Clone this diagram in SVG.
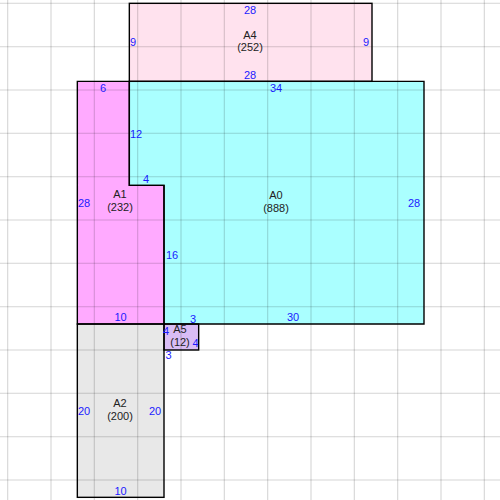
<svg xmlns="http://www.w3.org/2000/svg" width="500" height="500" viewBox="0 0 500 500">
<style>
.grid line{stroke:#000;stroke-opacity:0.17;stroke-width:1.1}
.shape{stroke:#000;stroke-width:1.4}
.dim{font-family:"Liberation Sans",Arial,sans-serif;font-size:11px;fill:#1a1aff;text-anchor:middle}
.name{font-family:"Liberation Sans",Arial,sans-serif;font-size:11px;fill:#222;text-anchor:middle}
</style>
<rect x="0" y="0" width="500" height="500" fill="#fff"/>
<g id="fills">
<rect x="129.33" y="3.33" width="242.67" height="78" fill="#ffe2ee"/>
<polygon points="129.33,81.33 424,81.33 424,324 164,324 164,185.33 129.33,185.33" fill="#aaffff"/>
<polygon points="77.33,81.33 129.33,81.33 129.33,185.33 164,185.33 164,324 77.33,324" fill="#ffaaff"/>
<rect x="77.33" y="324" width="86.67" height="173.33" fill="#e8e8e8"/>
<rect x="164" y="324" width="34.67" height="26" fill="#d9bdf5"/>
</g>
<g class="grid">
<line x1="7.7" y1="0" x2="7.7" y2="500"/>
<line x1="51" y1="0" x2="51" y2="500"/>
<line x1="94.3" y1="0" x2="94.3" y2="500"/>
<line x1="137.7" y1="0" x2="137.7" y2="500"/>
<line x1="181" y1="0" x2="181" y2="500"/>
<line x1="224.3" y1="0" x2="224.3" y2="500"/>
<line x1="267.7" y1="0" x2="267.7" y2="500"/>
<line x1="311" y1="0" x2="311" y2="500"/>
<line x1="354.3" y1="0" x2="354.3" y2="500"/>
<line x1="397.7" y1="0" x2="397.7" y2="500"/>
<line x1="441" y1="0" x2="441" y2="500"/>
<line x1="484.3" y1="0" x2="484.3" y2="500"/>
<line x1="0" y1="3.3" x2="500" y2="3.3"/>
<line x1="0" y1="46.7" x2="500" y2="46.7"/>
<line x1="0" y1="90" x2="500" y2="90"/>
<line x1="0" y1="133.3" x2="500" y2="133.3"/>
<line x1="0" y1="176.7" x2="500" y2="176.7"/>
<line x1="0" y1="220" x2="500" y2="220"/>
<line x1="0" y1="263.3" x2="500" y2="263.3"/>
<line x1="0" y1="306.7" x2="500" y2="306.7"/>
<line x1="0" y1="350" x2="500" y2="350"/>
<line x1="0" y1="393.3" x2="500" y2="393.3"/>
<line x1="0" y1="436.7" x2="500" y2="436.7"/>
<line x1="0" y1="480" x2="500" y2="480"/>
</g>
<g id="A4">
<rect class="shape" x="129.33" y="3.33" width="242.67" height="78" fill="none"/>
<text class="dim" x="250" y="14">28</text>
<text class="dim" x="133" y="46">9</text>
<text class="dim" x="366" y="46">9</text>
<text class="dim" x="250" y="79">28</text>
<text class="name" x="250" y="39">A4</text>
<text class="name" x="250" y="51">(252)</text>
</g>
<g id="A0">
<polygon class="shape" points="129.33,81.33 424,81.33 424,324 164,324 164,185.33 129.33,185.33" fill="none"/>
<text class="dim" x="276" y="92">34</text>
<text class="dim" x="414" y="207">28</text>
<text class="dim" x="293" y="321">30</text>
<text class="name" x="276" y="199">A0</text>
<text class="name" x="276" y="212">(888)</text>
</g>
<g id="A1">
<polygon class="shape" points="77.33,81.33 129.33,81.33 129.33,185.33 164,185.33 164,324 77.33,324" fill="none"/>
<text class="dim" x="103" y="92">6</text>
<text class="dim" x="136" y="137.5">12</text>
<text class="dim" x="146" y="183">4</text>
<text class="dim" x="172" y="259">16</text>
<text class="dim" x="120.5" y="321">10</text>
<text class="dim" x="84" y="207">28</text>
<text class="name" x="120" y="198">A1</text>
<text class="name" x="120" y="211">(232)</text>
</g>
<g id="A2">
<rect class="shape" x="77.33" y="324" width="86.67" height="173.33" fill="none"/>
<text class="dim" x="84" y="415">20</text>
<text class="dim" x="155" y="415">20</text>
<text class="dim" x="120.5" y="495">10</text>
<text class="name" x="120" y="407">A2</text>
<text class="name" x="120" y="420">(200)</text>
</g>
<g id="A5">
<rect class="shape" x="164" y="324" width="34.67" height="26" fill="none"/>
<text class="dim" x="193" y="323">3</text>
<text class="dim" x="166" y="335">4</text>
<text class="dim" x="195.5" y="347">4</text>
<text class="dim" x="168.5" y="359">3</text>
<text class="name" x="180" y="333">A5</text>
<text class="name" x="180" y="346">(12)</text>
</g>
<g id="connectors"/>
</svg>
